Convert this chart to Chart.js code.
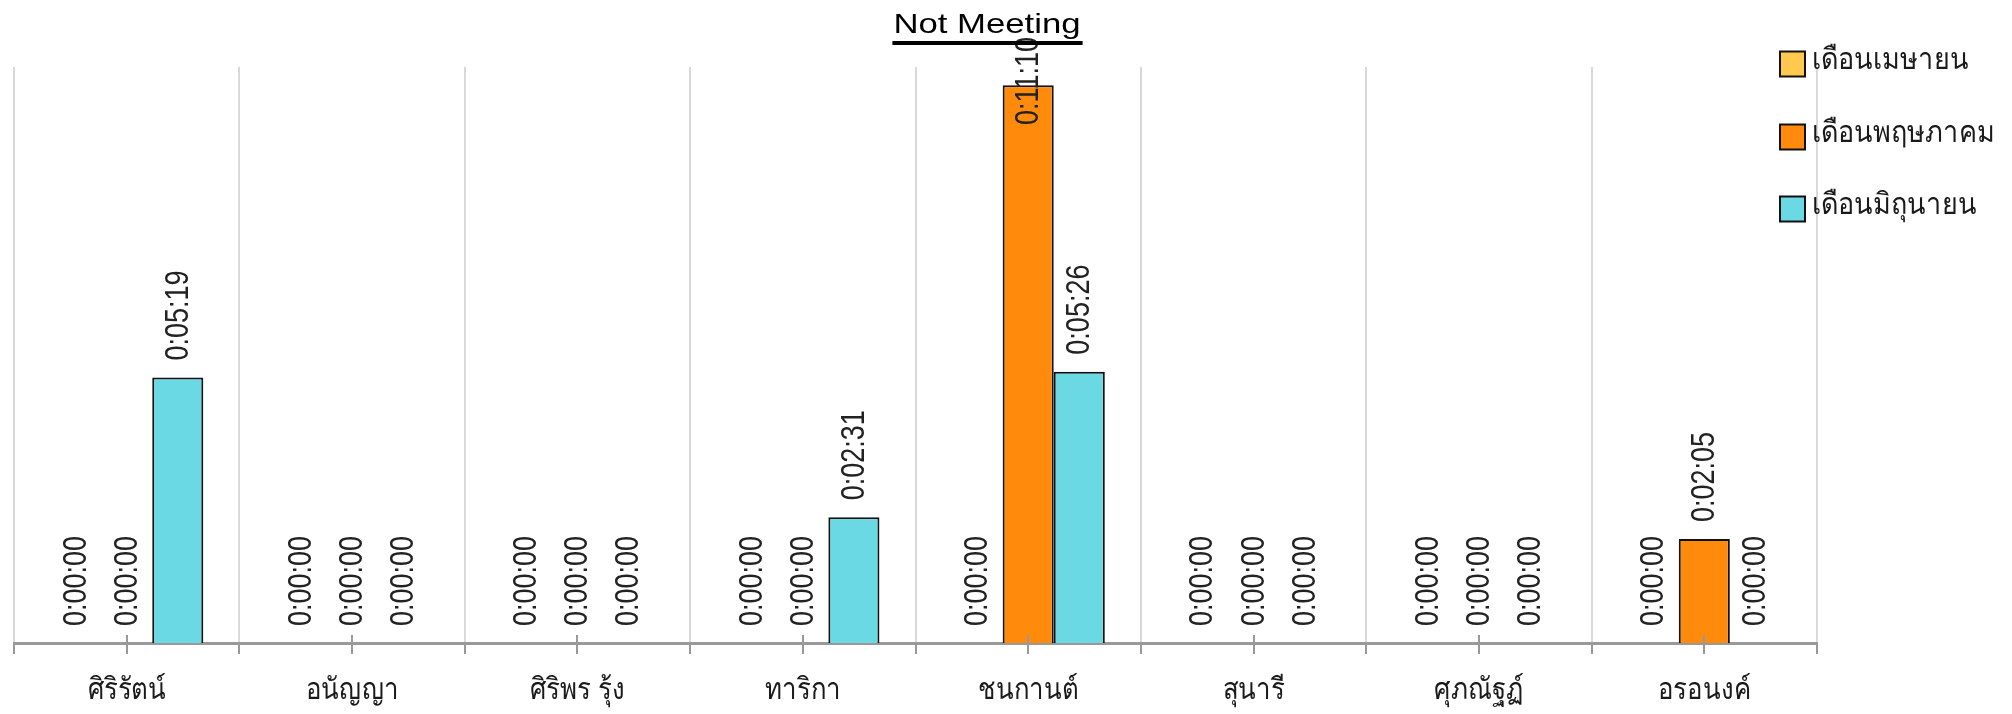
<!DOCTYPE html>
<html>
<head>
<meta charset="utf-8">
<script src="https://cdn.jsdelivr.net/npm/chart.js@4.4.1/dist/chart.umd.min.js"></script>
<style>
html,body{margin:0;padding:0;background:#fff;}
#wrap{width:2012px;height:714px;position:relative;}
</style>
</head>
<body>
<div id="wrap"><canvas id="c" width="2012" height="714"></canvas></div>
<script>
const categories = ['ศิริรัตน์', 'อนัญญา', 'ศิริพร รุ้ง', 'ทาริกา', 'ชนกานต์', 'สุนารี', 'ศุภณัฐฏ์', 'อรอนงค์'];
const seriesNames = ['เดือนเมษายน', 'เดือนพฤษภาคม', 'เดือนมิถุนายน'];
// values in seconds
const aprilSeconds = [0, 0, 0, 0, 0, 0, 0, 0];
const maySeconds = [0, 0, 0, 0, 670, 0, 0, 125];
const juneSeconds = [319, 0, 0, 151, 326, 0, 0, 0];
const yMaxSeconds = 692;
const titleText = 'Not Meeting';
const colors = ['#FFC94F', '#FF8A0C', '#6AD9E3'];

function fmt(s){
  const h = Math.floor(s/3600), m = Math.floor((s%3600)/60), sec = s%60;
  return h + ':' + String(m).padStart(2,'0') + ':' + String(sec).padStart(2,'0');
}

const STRETCH = 1.2;
const LATIN = "'Liberation Sans', Arial, sans-serif";

const customDraw = {
  id: 'customDraw',
  afterDatasetsDraw(chart){
    const ctx = chart.ctx;
    const xs = chart.scales.x;
    const area = chart.chartArea;
    // center tick marks
    ctx.save();
    ctx.strokeStyle = '#999';
    ctx.lineWidth = 2;
    for (let i = 0; i < categories.length; i++){
      const x = Math.round(xs.getPixelForValue(i));
      ctx.beginPath();
      ctx.moveTo(x, area.bottom - 8);
      ctx.lineTo(x, area.bottom + 11);
      ctx.stroke();
    }
    ctx.restore();
    // category labels
    ctx.save();
    ctx.fillStyle = '#1a1a1a';
    ctx.font = '30px ' + LATIN;
    ctx.textAlign = 'center';
    ctx.textBaseline = 'alphabetic';
    for (let i = 0; i < categories.length; i++){
      const x = xs.getPixelForValue(i);
      ctx.save();
      ctx.translate(x, area.bottom + 56);
      ctx.scale(0.86, 1);
      ctx.fillText(categories[i], 0, 0);
      ctx.restore();
    }
    ctx.restore();
    // data labels
    ctx.save();
    ctx.fillStyle = '#222';
    ctx.font = '27px ' + LATIN;
    ctx.textAlign = 'left';
    ctx.textBaseline = 'middle';
    chart.data.datasets.forEach((ds, di) => {
      const meta = chart.getDatasetMeta(di);
      meta.data.forEach((el, i) => {
        const txt = fmt(ds.data[i]);
        const w = ctx.measureText(txt).width;
        let bottom = el.y - 17;
        if (bottom - w < 37) bottom = 37 + w;
        ctx.save();
        ctx.translate(el.x + 1, bottom);
        ctx.scale(STRETCH, 1);
        ctx.rotate(-Math.PI/2);
        ctx.fillText(txt, 0, 0);
        ctx.restore();
      });
    });
    ctx.restore();
  },
  afterDraw(chart){
    const ctx = chart.ctx;
    // title
    ctx.save();
    ctx.fillStyle = '#000';
    ctx.font = '28px ' + LATIN;
    ctx.textAlign = 'center';
    ctx.textBaseline = 'alphabetic';
    ctx.translate(987, 33);
    ctx.scale(1.24, 1);
    const tw = ctx.measureText(titleText).width;
    ctx.fillText(titleText, 0, 0);
    ctx.restore();
    ctx.save();
    ctx.fillStyle = '#000';
    const uw = tw * 1.24;
    ctx.fillRect(987 - uw/2 - 1, 41, uw + 3, 4);
    ctx.restore();
    // legend
    ctx.save();
    const ys = [64, 137, 209];
    seriesNames.forEach((name, i) => {
      const cy = ys[i];
      ctx.fillStyle = colors[i];
      ctx.fillRect(1780, cy - 12.5, 25, 25);
      ctx.strokeStyle = '#111';
      ctx.lineWidth = 2;
      ctx.strokeRect(1780, cy - 12.5, 25, 25);
      ctx.fillStyle = '#1a1a1a';
      ctx.font = '30px ' + LATIN;
      ctx.textAlign = 'left';
      ctx.textBaseline = 'middle';
      ctx.save();
      ctx.translate(1812, cy - 3);
      ctx.scale(0.9, 1);
      ctx.fillText(name, 0, 0);
      ctx.restore();
    });
    ctx.restore();
  }
};

new Chart(document.getElementById('c'), {
  type: 'bar',
  data: {
    labels: categories,
    datasets: [aprilSeconds, maySeconds, juneSeconds].map((d, i) => ({
      label: seriesNames[i],
      data: d,
      backgroundColor: colors[i],
      borderColor: '#111',
      borderWidth: (c) => (c.raw === 0 ? 0 : 2),
      borderSkipped: 'bottom',
      categoryPercentage: 0.68,
      barPercentage: 1.0
    }))
  },
  options: {
    responsive: false,
    animation: false,
    devicePixelRatio: 1,
    layout: { padding: { left: 14, right: 195, top: 67, bottom: 0 } },
    plugins: {
      legend: { display: false },
      title: { display: false },
      tooltip: { enabled: false }
    },
    scales: {
      x: {
        offset: true,
        grid: {
          display: true,
          offset: true,
          color: '#d9d9d9',
          lineWidth: 2,
          drawTicks: true,
          tickLength: 11,
          tickColor: '#999',
          tickWidth: 2
        },
        border: { display: true, color: '#999', width: 3 },
        ticks: { display: false, autoSkip: false },
        afterFit(scale){ scale.height = 71; }
      },
      y: {
        display: false,
        min: 0,
        max: yMaxSeconds,
        grid: { display: false }
      }
    }
  },
  plugins: [customDraw]
});
</script>
</body>
</html>
